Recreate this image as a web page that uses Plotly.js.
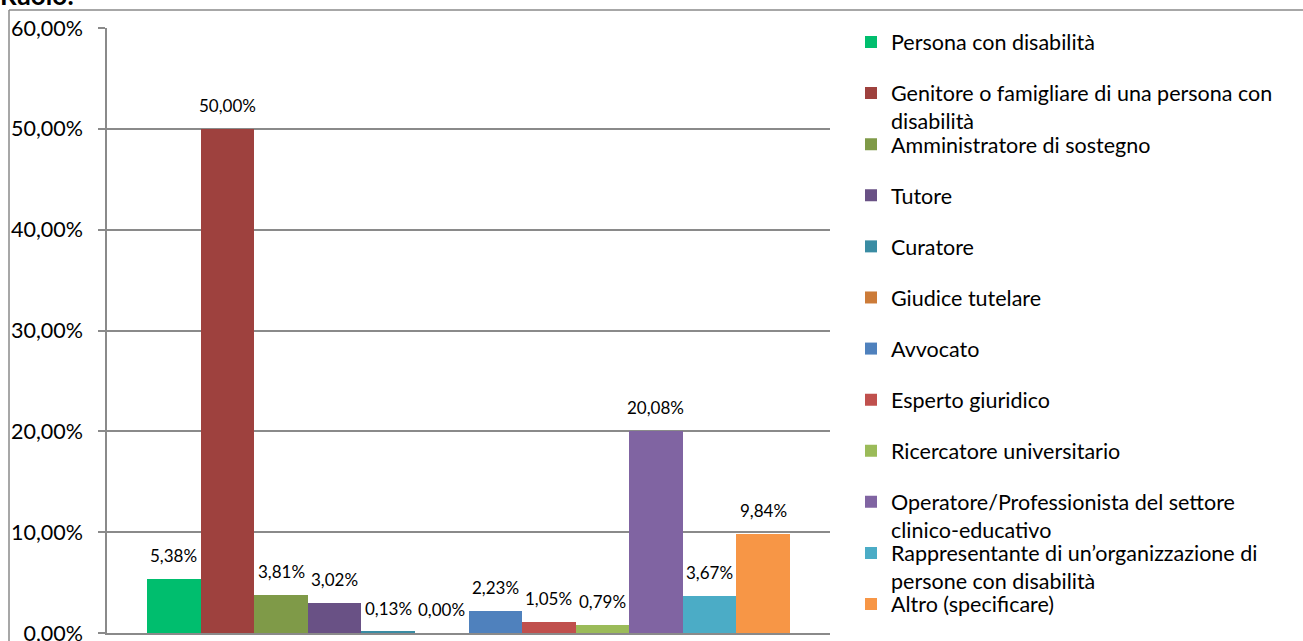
<!DOCTYPE html>
<html>
<head>
<meta charset="utf-8">
<script src="https://cdn.plot.ly/plotly-3.0.1.min.js"></script>
<style>html,body{margin:0;padding:0;background:#fff;}#chart{width:1303px;height:641px;}</style>
</head>
<body>
<div id="chart"></div>
<script>
// ---- data ----
const categories = [
  "Persona con disabilità",
  "Genitore o famigliare di una persona con disabilità",
  "Amministratore di sostegno",
  "Tutore",
  "Curatore",
  "Giudice tutelare",
  "Avvocato",
  "Esperto giuridico",
  "Ricercatore universitario",
  "Operatore/Professionista del settore clinico-educativo",
  "Rappresentante di un’organizzazione di persone con disabilità",
  "Altro (specificare)"
];
const legendNames = [
  "Persona con disabilità",
  "Genitore o famigliare di una persona con<br>disabilità",
  "Amministratore di sostegno",
  "Tutore",
  "Curatore",
  "Giudice tutelare",
  "Avvocato",
  "Esperto giuridico",
  "Ricercatore universitario",
  "Operatore/Professionista del settore<br>clinico-educativo",
  "Rappresentante di un’organizzazione di<br>persone con disabilità",
  "Altro (specificare)"
];
const values = [5.38, 50.00, 3.81, 3.02, 0.13, 0.00, 2.23, 1.05, 0.79, 20.08, 3.67, 9.84];
const colors = ["#00BE6E", "#9E413E", "#7F9A48", "#695185", "#3A8CA3", "#CC7B38",
                "#4F81BD", "#C0504D", "#9BBB59", "#8064A2", "#4BACC6", "#F79646"];
const yTicks = [0, 10, 20, 30, 40, 50, 60];
const yTickLabels = ["0,00%", "10,00%", "20,00%", "30,00%", "40,00%", "50,00%", "60,00%"];
const titleText = "Ruolo:";

// ---- layout helpers ----
const W = 1303, H = 641;
const M = {l: 107, r: 473, t: 28, b: 8};
const pw = W - M.l - M.r, ph = H - M.t - M.b;
const px2x = px => (px - M.l) / pw;
const py2y = py => 1 - (py - M.t) / ph;
const FONT = 'Lato, "Open Sans", sans-serif';
const GRID = '#8a8a8a';
const fmt = v => v.toFixed(2).replace('.', ',') + '%';

const traces = categories.map((c, i) => ({
  type: 'bar',
  x: [c],
  y: [values[i]],
  name: legendNames[i],
  marker: {color: colors[i], line: {width: 0}},
  legend: i === 0 ? 'legend' : 'legend' + (i + 1),
  hovertemplate: c + ': ' + fmt(values[i]) + '<extra></extra>'
}));

const layout = {
  width: W, height: H,
  margin: M,
  paper_bgcolor: '#fff',
  plot_bgcolor: '#fff',
  separators: ',.',
  barmode: 'overlay',
  bargap: 0,
  font: {family: FONT, color: '#000', size: 21.5},
  title: {
    text: '<b>' + titleText + '</b>',
    xref: 'container', x: 0, xanchor: 'left',
    yref: 'container', y: 1 - 5 / H, yanchor: 'bottom',
    font: {family: FONT, size: 26, color: '#000'}
  },
  xaxis: {
    type: 'category',
    categoryorder: 'array',
    categoryarray: categories,
    range: [-1.25, 12.25],
    showticklabels: false,
    ticks: '',
    showgrid: false,
    showline: true,
    linecolor: GRID,
    linewidth: 1.5,
    zeroline: false,
    fixedrange: true
  },
  yaxis: {
    range: [0, 60],
    tickmode: 'array',
    tickvals: yTicks,
    ticktext: yTickLabels,
    ticks: 'outside',
    ticklen: 7,
    tickwidth: 1.5,
    tickcolor: GRID,
    ticklabelstandoff: 11,
    ticklabeloverflow: 'allow',
    showline: true,
    linecolor: GRID,
    linewidth: 1.5,
    showgrid: true,
    gridcolor: GRID,
    gridwidth: 1.5,
    zeroline: false,
    tickfont: {family: FONT, size: 21.5, color: '#000'},
    fixedrange: true
  },
  annotations: values.map((v, i) => ({
    x: categories[i], y: v, xref: 'x', yref: 'y',
    text: fmt(v), showarrow: false,
    yanchor: 'bottom', yshift: 11,
    font: {family: FONT, size: 17, color: '#000'}
  })),
  shapes: [
    {type: 'line', xref: 'paper', yref: 'paper', x0: px2x(9), x1: px2x(1320), y0: py2y(10), y1: py2y(10),
     line: {color: GRID, width: 1.5}},
    {type: 'line', xref: 'paper', yref: 'paper', x0: px2x(9), x1: px2x(9), y0: py2y(10), y1: py2y(660),
     line: {color: GRID, width: 1.5}}
  ],
  showlegend: true
};

const legendLeft = 851, legendTop0 = 42, legendStep = 51.1;
categories.forEach((c, i) => {
  const key = i === 0 ? 'legend' : 'legend' + (i + 1);
  layout[key] = {
    x: px2x(legendLeft), xanchor: 'left',
    y: py2y(legendTop0 + i * legendStep - 20.5), yanchor: 'top',
    valign: 'top',
    bgcolor: 'rgba(0,0,0,0)',
    borderwidth: 0,
    font: {family: FONT, size: 21.5, color: '#000'}
  };
});

Plotly.newPlot('chart', traces, layout, {displayModeBar: false, responsive: false});
</script>
</body>
</html>
